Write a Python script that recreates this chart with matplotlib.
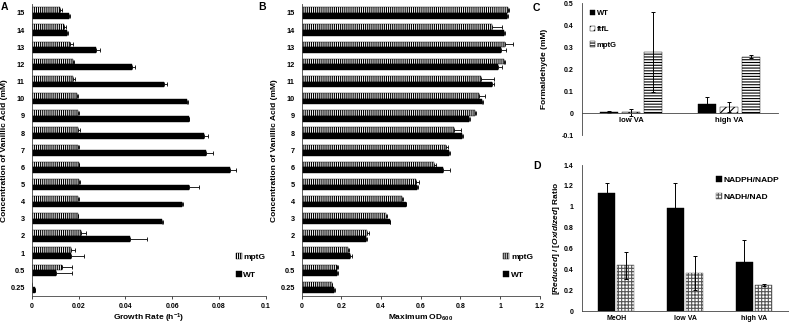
import numpy as np
import matplotlib
matplotlib.use('Agg')
import matplotlib.pyplot as plt

plt.rcParams['font.family'] = ['Liberation Sans', 'DejaVu Sans']
plt.rcParams['font.weight'] = 'bold'
plt.rcParams['axes.labelweight'] = 'bold'
plt.rcParams['hatch.linewidth'] = 0.8
plt.rcParams['mathtext.fontset'] = 'custom'
plt.rcParams['mathtext.rm'] = 'Liberation Sans:bold'
plt.rcParams['mathtext.it'] = 'Liberation Sans:italic:bold'
plt.rcParams['mathtext.default'] = 'rm'

# concentrations of vanillic acid (mM)
conc = ['0.25', '0.5', '1', '2', '3', '4', '5', '6', '7', '8', '9', '10', '11', '12', '13', '14', '15']

# panel A: growth rate (h-1)
gr_mptg = [0, 0.0131, 0.0167, 0.0209, 0.0197, 0.0197, 0.0202, 0.0202, 0.0199, 0.0199,
           0.0199, 0.0192, 0.0175, 0.0178, 0.0164, 0.0138, 0.0121]
gr_mptg_err = [0, 0.0043, 0.0016, 0.0021, 0.0002, 0.0003, 0.0005, 0.0002, 0.0002, 0.0009,
               0.0002, 0.0005, 0.0011, 0.0003, 0.0014, 0.0009, 0.0007]
gr_wt = [0.0015, 0.0104, 0.0167, 0.0419, 0.0556, 0.0641, 0.0674, 0.0846, 0.0744, 0.0736,
         0.0672, 0.0665, 0.0567, 0.0430, 0.0275, 0.0152, 0.0161]
gr_wt_err = [0, 0.0067, 0.0058, 0.0073, 0.0004, 0.0007, 0.0040, 0.0028, 0.0030, 0.0016,
             0.0002, 0.0005, 0.0013, 0.0011, 0.0017, 0.0003, 0.0003]

# panel B: maximum OD600
od_mptg = [0.151, 0.180, 0.235, 0.329, 0.425, 0.508, 0.575, 0.667, 0.728, 0.770,
           0.874, 0.892, 0.903, 1.022, 1.025, 0.961, 1.042]
od_mptg_err = [0.003, 0.004, 0.005, 0.008, 0.003, 0.004, 0.017, 0.008, 0.012, 0.032,
               0.005, 0.030, 0.066, 0.004, 0.042, 0.050, 0.004]
od_wt = [0.165, 0.180, 0.245, 0.324, 0.444, 0.524, 0.582, 0.714, 0.745, 0.810,
         0.844, 0.911, 0.958, 0.992, 1.005, 1.022, 1.035]
od_wt_err = [0.003, 0.004, 0.008, 0.003, 0.003, 0.003, 0.004, 0.032, 0.004, 0.003,
             0.003, 0.004, 0.013, 0.020, 0.025, 0.003, 0.003]

# panel C: formaldehyde (mM)
c_cats = ['low VA', 'high VA']
fa_wt = [0.005, 0.044]
fa_wt_err = [0.004, 0.032]
fa_ftfl = [0.005, 0.027]
fa_ftfl_err = [0.016, 0.023]
fa_mptg = [0.277, 0.258]
fa_mptg_err = [0.182, 0.007]

# panel D: reduced / oxidized ratio
d_cats = ['MeOH', 'low VA', 'high VA']
nadph = [1.134, 0.984, 0.473]
nadph_err = [0.090, 0.246, 0.211]
nadh = [0.438, 0.364, 0.249]
nadh_err = [0.130, 0.160, 0.013]

W, H = 789, 324
fig = plt.figure(figsize=(W / 100, H / 100), dpi=100)


def rect(x0, y0, x1, y1):
    # pixel box (top-left origin) -> figure fraction
    return [x0 / W, 1 - y1 / H, (x1 - x0) / W, (y1 - y0) / H]


tick_fs = 5
lab_fs = 6
leg_fs = 6
ekw = dict(lw=0.7, capthick=0.7)


def style_axes(ax):
    for s in ['top', 'right']:
        ax.spines[s].set_visible(False)
    for s in ['left', 'bottom']:
        ax.spines[s].set_linewidth(0.6)
        ax.spines[s].set_color('#444444')


def set_ylabel_at(ax, text, xfrac):
    ax.set_ylabel(text, fontsize=lab_fs)
    ax.yaxis.set_label_coords(xfrac, 0.5)
    ax.yaxis.label.set_verticalalignment('center')


def hbar_panel(ax, mptg, mptg_err, wt, wt_err, xmax, xticks, xticklabels, xlabel, leg_x, ylab_x):
    y = np.arange(len(conc))
    h = 0.33
    zeros = [0] * len(conc)
    ax.barh(y + h / 2, mptg, height=h, color='white', edgecolor='black', lw=0.3,
            hatch='|' * 8, label='mptG')
    ax.barh(y - h / 2, wt, height=h, color='black', edgecolor='black', lw=0.3, label='WT')
    ax.errorbar(mptg, y + h / 2, xerr=[zeros, mptg_err], fmt='none', ecolor='black',
                elinewidth=0.6, capsize=1.3, capthick=0.6)
    ax.errorbar(wt, y - h / 2, xerr=[zeros, wt_err], fmt='none', ecolor='black',
                elinewidth=0.6, capsize=1.3, capthick=0.6)
    ax.set_ylim(-0.5, len(conc) - 0.5)
    ax.set_xlim(0, xmax)
    ax.set_yticks(y)
    ax.set_yticklabels(conc)
    ax.set_xticks(xticks)
    ax.set_xticklabels(xticklabels)
    ax.tick_params(axis='y', length=0, pad=5, labelsize=tick_fs + 0.3)
    ax.tick_params(axis='x', length=2, width=0.5, labelsize=tick_fs, pad=3)
    style_axes(ax)
    ax.set_xlabel(xlabel, fontsize=lab_fs)
    ax.xaxis.set_label_coords(0.5, -0.075)
    ax.xaxis.label.set_verticalalignment('center')
    set_ylabel_at(ax, 'Concentration of Vanillic Acid (mM)', ylab_x)
    ax.legend(loc='lower left', bbox_to_anchor=(leg_x, 0.045), frameon=False,
              fontsize=leg_fs, handlelength=0.7, handleheight=0.7,
              handletextpad=0.2, labelspacing=1.2, borderpad=0)


# panel A
axA = fig.add_axes(rect(31.7, 4.4, 265.7, 296))
hbar_panel(axA, gr_mptg, gr_mptg_err, gr_wt, gr_wt_err, 0.1,
           [0, 0.02, 0.04, 0.06, 0.08, 0.1], ['0', '0.02', '0.04', '0.06', '0.08', '0.1'],
           'Growth Rate (h$^{-1}$)', 0.855, -0.116)

# panel B
axB = fig.add_axes(rect(301.7, 4.4, 539.7, 296))
hbar_panel(axB, od_mptg, od_mptg_err, od_wt, od_wt_err, 1.2,
           [0, 0.2, 0.4, 0.6, 0.8, 1.0, 1.2], ['0', '0.2', '0.4', '0.6', '0.8', '1', '1.2'],
           'Maximum OD$_{600}$', 0.83, -0.116)

# panel C
axC = fig.add_axes(rect(582, 3.3, 778, 135.3))
xc = np.arange(len(c_cats))
bw = 0.18
off = 0.225
axC.bar(xc - off, fa_wt, bw, yerr=fa_wt_err, color='black', edgecolor='black', lw=0.3,
        error_kw=ekw, capsize=1.5, label='WT')
axC.bar(xc, fa_ftfl, bw, yerr=fa_ftfl_err, color='white', edgecolor='black', lw=0.3,
        hatch='////', error_kw=ekw, capsize=1.5, label='ftfL')
axC.bar(xc + off, fa_mptg, bw, yerr=fa_mptg_err, color='white', edgecolor='black', lw=0.3,
        hatch='------', error_kw=ekw, capsize=1.5, label='mptG')
axC.set_xlim(-0.5, len(c_cats) - 0.5)
axC.set_ylim(-0.1, 0.5)
axC.set_yticks([-0.1, 0, 0.1, 0.2, 0.3, 0.4, 0.5])
axC.set_yticklabels(['-0.1', '0', '0.1', '0.2', '0.3', '0.4', '0.5'])
axC.set_xticks(xc)
axC.set_xticklabels(c_cats)
style_axes(axC)
axC.spines['bottom'].set_position(('data', 0))
axC.tick_params(axis='y', length=0, pad=6, labelsize=tick_fs)
axC.tick_params(axis='x', length=0, pad=3, labelsize=tick_fs + 0.5)
set_ylabel_at(axC, 'Formaldehyde (mM)', -0.19)
axC.legend(loc='upper left', bbox_to_anchor=(0.02, 0.98), frameon=False,
           fontsize=tick_fs + 0.5, handlelength=0.7, handleheight=0.7,
           handletextpad=0.2, labelspacing=1.1, borderpad=0)

# panel D
axD = fig.add_axes(rect(581.7, 165, 788.5, 311))
xd = np.arange(len(d_cats))
bw = 0.245
axD.bar(xd - 0.14, nadph, bw, yerr=nadph_err, color='black', edgecolor='black', lw=0.3,
        error_kw=ekw, capsize=1.5, label='NADPH/NADP')
axD.bar(xd + 0.14, nadh, bw, yerr=nadh_err, color='white', edgecolor='#555555', lw=0.3,
        hatch='+++++', error_kw=ekw, capsize=1.5, label='NADH/NAD')
axD.set_xlim(-0.5, len(d_cats) - 0.5)
axD.set_ylim(0, 1.4)
axD.set_yticks([0, 0.2, 0.4, 0.6, 0.8, 1.0, 1.2, 1.4])
axD.set_yticklabels(['0', '0.2', '0.4', '0.6', '0.8', '1', '1.2', '1.4'])
axD.set_xticks(xd)
axD.set_xticklabels(d_cats)
style_axes(axD)
axD.tick_params(axis='y', length=0, pad=6, labelsize=tick_fs)
axD.tick_params(axis='x', length=0, pad=3, labelsize=tick_fs)
set_ylabel_at(axD, '[$\\it{Reduced}$] / [$\\it{Oxidized}$] Ratio', -0.124)
axD.legend(loc='upper right', bbox_to_anchor=(0.975, 0.95), frameon=False,
           fontsize=leg_fs, handlelength=0.7, handleheight=0.7,
           handletextpad=0.2, labelspacing=1.1, borderpad=0)

# panel letters
for txt, px, py in [('A', 1, 7), ('B', 258, 7), ('C', 533, 8), ('D', 533, 166)]:
    fig.text(px / W, 1 - py / H, txt, fontsize=7.5, fontweight='bold', va='center', ha='left')

fig.savefig('out.png', dpi=100)
